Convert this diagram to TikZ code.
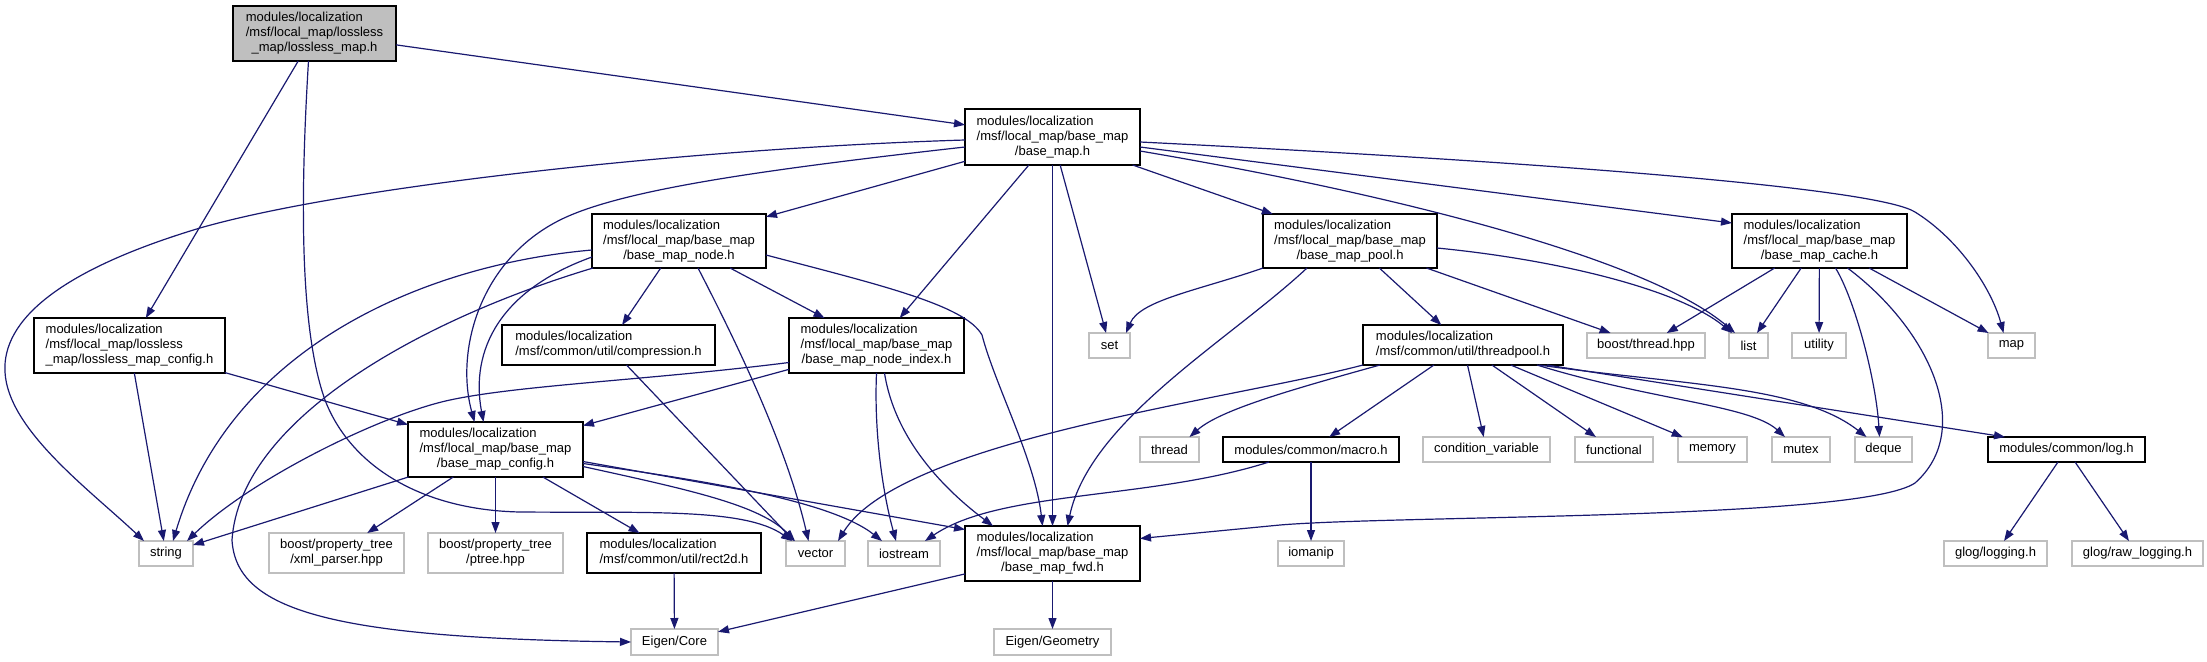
\documentclass[tikz,border=0pt]{standalone}
\usepackage{fontspec}
\setmainfont{Liberation Sans}
\usetikzlibrary{arrows.meta,calc}
\definecolor{edgec}{HTML}{191970}
\definecolor{greyb}{HTML}{BFBFBF}
\newcommand\threel[3]{\begin{tabular}{@{}l@{}}#1\\#2\\\multicolumn{1}{@{}c@{}}{#3}\end{tabular}}
\newcommand\twol[2]{\begin{tabular}{@{}l@{}}#1\\#2\end{tabular}}
\newcommand\twoc[2]{\begin{tabular}{@{}c@{}}#1\\#2\end{tabular}}
\begin{document}
\begin{tikzpicture}[x=1pt,y=-1pt,
  box/.style={draw=black,line width=1.3pt,fill=white,inner sep=0pt,outer sep=0pt,rectangle,font=\fontsize{13}{15}\selectfont},
  ext/.style={box,draw=greyb},
  sz/.style 2 args={minimum width=#1,minimum height=#2},
  e/.style={draw=edgec,line width=1.2pt,-{Triangle[length=11pt,width=8pt]}}]
\useasboundingbox[fill=white] (0,0) rectangle (2207,661);

% ---- nodes ----
\node[box,sz={163}{55},fill=greyb] (root) at (314.5,33.5) {\threel{modules/localization}{/msf/local\_map/lossless}{\_map/lossless\_map.h}};
\node[box,sz={191}{55}] (cfgl) at (129.5,345.5) {\threel{modules/localization}{/msf/local\_map/lossless}{\_map/lossless\_map\_config.h}};
\node[box,sz={175}{56}] (basemap) at (1052.5,137) {\threel{modules/localization}{/msf/local\_map/base\_map}{/base\_map.h}};
\node[box,sz={174}{54}] (node) at (679,241) {\threel{modules/localization}{/msf/local\_map/base\_map}{/base\_map\_node.h}};
\node[box,sz={174}{54}] (pool) at (1350,241) {\threel{modules/localization}{/msf/local\_map/base\_map}{/base\_map\_pool.h}};
\node[box,sz={175}{54}] (cache) at (1819.5,241) {\threel{modules/localization}{/msf/local\_map/base\_map}{/base\_map\_cache.h}};
\node[box,sz={213}{40}] (compression) at (608.5,345) {\twol{modules/localization}{/msf/common/util/compression.h}};
\node[box,sz={175}{55}] (nodeindex) at (876.5,345.5) {\threel{modules/localization}{/msf/local\_map/base\_map}{/base\_map\_node\_index.h}};
\node[ext,sz={41}{25}] (set) at (1109.5,345.5) {set};
\node[box,sz={200}{40}] (threadpool) at (1463,345) {\twol{modules/localization}{/msf/common/util/threadpool.h}};
\node[ext,sz={118}{25}] (boostthread) at (1646,345.5) {boost/thread.hpp};
\node[ext,sz={39}{25}] (list) at (1748.5,345.5) {list};
\node[ext,sz={54}{25}] (utility) at (1819,345.5) {utility};
\node[ext,sz={47}{25}] (map) at (2011.5,345.5) {map};
\node[box,sz={175}{55}] (config) at (495.5,449.5) {\threel{modules/localization}{/msf/local\_map/base\_map}{/base\_map\_config.h}};
\node[ext,sz={59}{25}] (thread) at (1169.5,449.5) {thread};
\node[box,sz={176}{25}] (macro) at (1311,449.5) {modules/common/macro.h};
\node[ext,sz={127}{25}] (condvar) at (1486.5,449.5) {condition\_variable};
\node[ext,sz={78}{25}] (functional) at (1614,449.5) {functional};
\node[ext,sz={69}{25}] (memory) at (1712.5,449.5) {memory};
\node[ext,sz={58}{25}] (mutex) at (1801,449.5) {mutex};
\node[ext,sz={57}{25}] (deque) at (1883.5,449.5) {deque};
\node[box,sz={157}{25}] (log) at (2066.5,449.5) {modules/common/log.h};
\node[ext,sz={54}{25}] (string) at (166,553.5) {string};
\node[ext,sz={135}{40}] (xml) at (336.5,553) {\twoc{boost/property\_tree}{/xml\_parser.hpp}};
\node[ext,sz={135}{40}] (ptree) at (495.5,553) {\twoc{boost/property\_tree}{/ptree.hpp}};
\node[box,sz={174}{40}] (rect2d) at (674,553) {\twol{modules/localization}{/msf/common/util/rect2d.h}};
\node[ext,sz={59}{25}] (vector) at (815.5,553.5) {vector};
\node[ext,sz={72}{25}] (iostream) at (904,553.5) {iostream};
\node[box,sz={175}{55}] (fwd) at (1052.5,553.5) {\threel{modules/localization}{/msf/local\_map/base\_map}{/base\_map\_fwd.h}};
\node[ext,sz={66}{25}] (iomanip) at (1311,553.5) {iomanip};
\node[ext,sz={103}{25}] (glogl) at (1995.5,553.5) {glog/logging.h};
\node[ext,sz={131}{25}] (glograw) at (2137.5,553.5) {glog/raw\_logging.h};
\node[ext,sz={87}{26}] (eigencore) at (674.5,642) {Eigen/Core};
\node[ext,sz={117}{26}] (eigengeom) at (1052.5,642) {Eigen/Geometry};

% ---- edges: lossless_map.h ----
\draw[e] (root) -- (basemap);
\draw[e] (root) -- (cfgl);
\draw[e] ($(root.south)+(-6,0)$) .. controls (300,200) and (300,330) .. (325,400) .. controls (350,465) and (420,510) .. (520,512) .. controls (650,513) and (745,508) .. ($(vector.north west)+(6,0)$);

% ---- base_map.h ----
\draw[e] (basemap) -- (node);
\draw[e] (basemap) -- (nodeindex);
\draw[e] (basemap) -- (fwd);
\draw[e] (basemap) -- (set);
\draw[e] (basemap) -- (pool);
\draw[e] ($(basemap.east)+(0,10)$) -- ($(cache.west)+(0,-18)$);
\draw[e] ($(basemap.west)+(0,3)$) .. controls (700,148) and (350,185) .. (200,228) .. controls (60,270) and (2,320) .. (5,372) .. controls (8,430) and (90,490) .. ($(string.north west)+(5,0)$);
\draw[e] ($(basemap.west)+(0,10)$) .. controls (760,170) and (620,190) .. (560,220) .. controls (480,260) and (455,350) .. ($(config.north)+(-21,0)$);
\draw[e] ($(basemap.east)+(0,5)$) .. controls (1600,165) and (1880,190) .. (1915,212) .. controls (1960,240) and (1992,290) .. ($(map.north)+(-8,0)$);
\draw[e] ($(basemap.east)+(0,14)$) .. controls (1400,195) and (1650,260) .. ($(list.north west)+(6,0)$);

% ---- base_map_node.h ----
\draw[e] (node) -- (compression);
\draw[e] (node) -- (nodeindex);
\draw[e] ($(node.south)+(19,0)$) .. controls (730,330) and (785,440) .. ($(vector.north)+(-7,0)$);
\draw[e] ($(node.east)+(0,14)$) .. controls (880,285) and (965,305) .. (982,335) .. controls (995,385) and (1035,460) .. ($(fwd.north)+(-10,0)$);
\draw[e] ($(node.west)+(0,9)$) .. controls (420,265) and (230,350) .. ($(string.north)+(7,0)$);
\draw[e] ($(node.west)+(0,16)$) .. controls (500,290) and (470,350) .. ($(config.north)+(-12,0)$);
\draw[e] ($(node.south west)+(1,0)$) .. controls (420,320) and (240,420) .. (232,540) .. controls (236,610) and (330,638) .. (eigencore.west);

% ---- compression.h ----
\draw[e] ($(compression.south)+(18,0)$) -- ($(vector.north west)+(8,0)$);

% ---- base_map_node_index.h ----
\draw[e] (nodeindex) -- (config);
\draw[e] (nodeindex.south) .. controls (874,430) and (882,490) .. ($(iostream.north)+(-8,0)$);
\draw[e] ($(nodeindex.south)+(8,0)$) .. controls (895,440) and (945,490) .. ($(fwd.north west)+(28,0)$);
\draw[e] ($(nodeindex.west)+(0,17)$) .. controls (650,380) and (520,385) .. (450,400) .. controls (380,415) and (250,480) .. ($(string.north east)+(-6,0)$);

% ---- base_map_config.h ----
\draw[e] (config) -- (string);
\draw[e] (config) -- (xml);
\draw[e] (config) -- (ptree);
\draw[e] (config) -- (rect2d);
\draw[e] ($(config.east)+(0,17)$) .. controls (690,490) and (760,505) .. ($(vector.north west)+(9,0)$);
\draw[e] ($(config.east)+(0,14)$) .. controls (700,480) and (830,500) .. ($(iostream.north west)+(14,0)$);
\draw[e] ($(config.east)+(0,12)$) -- ($(fwd.west)+(0,-24)$);

% ---- lossless_map_config.h ----
\draw[e] (cfgl) -- (string);
\draw[e] (cfgl) -- (config);

% ---- rect2d.h, base_map_fwd.h ----
\draw[e] (rect2d) -- (eigencore);
\draw[e] (fwd) -- (eigencore);
\draw[e] (fwd) -- (eigengeom);

% ---- base_map_pool.h ----
\draw[e] (pool) -- (threadpool);
\draw[e] (pool) -- (boostthread);
\draw[e] (pool.south west) .. controls (1200,290) and (1140,300) .. ($(set.north east)+(-4,0)$);
\draw[e] ($(pool.south west)+(44,0)$) .. controls (1230,340) and (1090,420) .. ($(fwd.north)+(15,0)$);
\draw[e] ($(pool.east)+(0,7)$) .. controls (1560,260) and (1680,290) .. ($(list.north west)+(3,0)$);

% ---- threadpool.h ----
\draw[e] (threadpool.south west) .. controls (1230,400) and (900,440) .. ($(vector.north east)+(-7,0)$);
\draw[e] ($(threadpool.south west)+(17,0)$) .. controls (1290,390) and (1220,410) .. ($(thread.north)+(20,0)$);
\draw[e] (threadpool) -- (macro);
\draw[e] (threadpool) -- (condvar);
\draw[e] (threadpool) -- (functional);
\draw[e] (threadpool) -- (memory);
\draw[e] ($(threadpool.south west)+(174,0)$) .. controls (1650,400) and (1750,405) .. ($(mutex.north)+(-16,0)$);
\draw[e] ($(threadpool.south west)+(176,0)$) .. controls (1680,385) and (1800,385) .. ($(deque.north)+(-17,0)$);
\draw[e] ($(threadpool.south west)+(184,0)$) -- ($(log.north west)+(17,0)$);

% ---- base_map_cache.h ----
\draw[e] (cache) -- (boostthread);
\draw[e] (cache) -- (list);
\draw[e] (cache) -- (utility);
\draw[e] (cache) -- (map);
\draw[e] ($(cache.south)+(16,0)$) .. controls (1855,300) and (1876,380) .. ($(deque.north)+(-4,0)$);
\draw[e] ($(cache.south)+(28,0)$) .. controls (1930,330) and (1975,430) .. (1915,483) .. controls (1860,520) and (1400,515) .. (1280,525) -- ($(fwd.east)+(0,-15)$);

% ---- macro.h, log.h ----
\draw[e] (macro) -- (iomanip);
\draw[e] ($(macro.south west)+(46,0)$) .. controls (1150,500) and (1000,490) .. ($(iostream.north east)+(-15,0)$);
\draw[e] (log) -- (glogl);
\draw[e] (log) -- (glograw);
\end{tikzpicture}
\end{document}
